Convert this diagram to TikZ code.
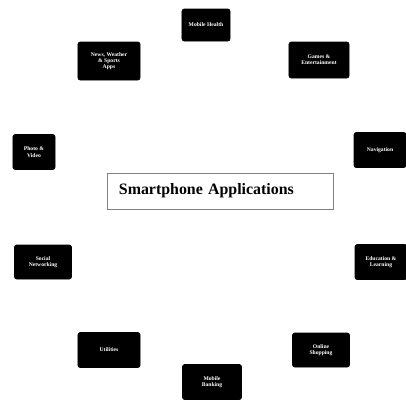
\documentclass[tikz,border=0pt]{standalone}
\usepackage{fontspec}
\setmainfont{Liberation Serif}
\usepackage{tikz}
\usetikzlibrary{positioning}

\tikzset{
  appbox/.style={fill=black, draw=black, rounded corners=1.5pt, inner sep=1pt,
    text=white, align=center, font=\fontsize{4}{4.4}\selectfont\bfseries},
  hubbox/.style={draw=gray, line width=0.5pt, fill=white, inner xsep=0.3cm,
    text width=5.05cm, align=left, minimum height=0.9cm,
    font=\fontsize{11.3}{13}\selectfont\bfseries}
}

\begin{document}
\begin{tikzpicture}[x=0.025cm, y=-0.025cm]
				\useasboundingbox (0,0) rectangle (406,404);
				
				% Riquadro centrale
				\node[hubbox] (hub) at (220,191) {Smartphone Applications};
				
				% Applicazioni intorno
				\node[appbox, minimum width=1.2cm, minimum height=0.8cm] (health) at (206,25) {Mobile Health};
				\node[appbox, minimum width=1.5cm, minimum height=0.9cm] (games) at (319,60) {Games \&\\Entertainment};
				\node[appbox, minimum width=1.55cm, minimum height=0.95cm] (news) at (109,61) {News, Weather\\\& Sports\\Apps};
				\node[appbox, minimum width=1.05cm, minimum height=0.875cm] (photo) at (34,152) {Photo \&\\Video};
				\node[appbox, minimum width=1.3cm, minimum height=0.875cm] (navi) at (380,150) {Navigation};
				\node[appbox, minimum width=1.425cm, minimum height=0.85cm] (social) at (43,262) {Social\\Networking};
				\node[appbox, minimum width=1.3cm, minimum height=0.875cm] (edu) at (381,262) {Education \&\\Learning};
				\node[appbox, minimum width=1.55cm, minimum height=0.875cm] (util) at (109,350) {Utilities};
				\node[appbox, minimum width=1.425cm, minimum height=0.85cm] (shop) at (321,350) {Online\\Shopping};
				\node[appbox, minimum width=1.475cm, minimum height=0.875cm] (bank) at (212,382) {Mobile\\Banking};
			\end{tikzpicture}
\end{document}
